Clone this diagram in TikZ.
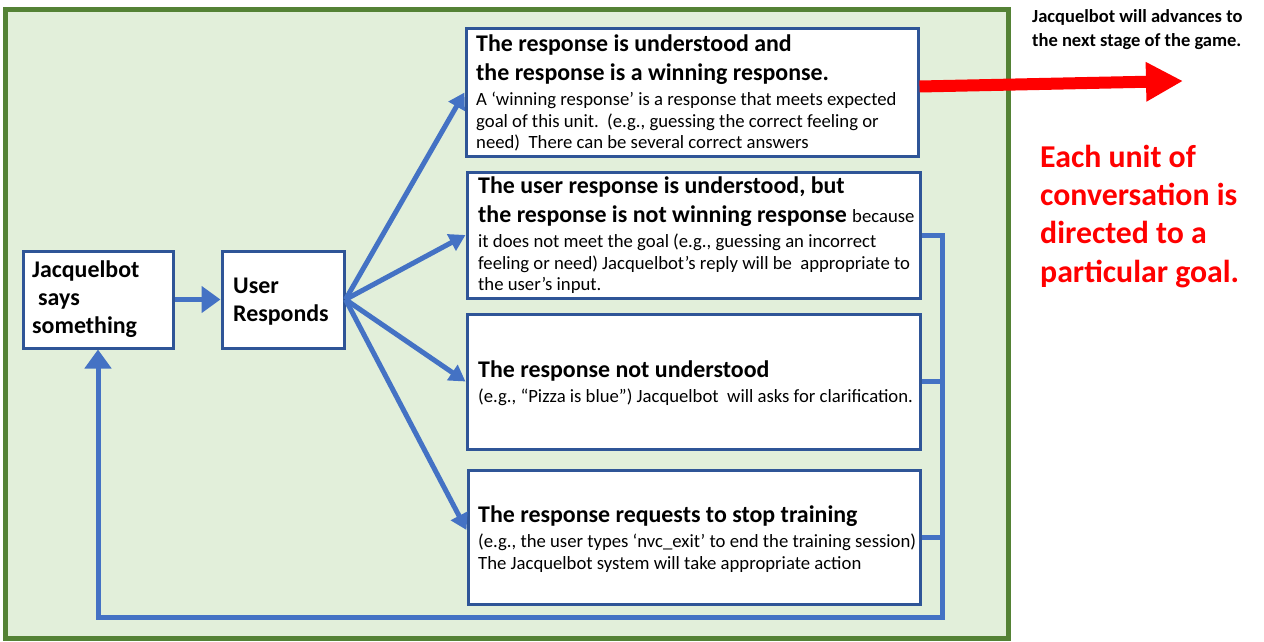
\documentclass[tikz,border=0pt]{standalone}
\usepackage{fontspec}
\setmainfont{Carlito}
\usetikzlibrary{arrows.meta}
\definecolor{greenfill}{HTML}{E2EFDA}
\definecolor{greenline}{HTML}{548235}
\definecolor{boxline}{HTML}{2F5597}
\definecolor{flowblue}{HTML}{4472C4}
\definecolor{redc}{HTML}{FF0000}
\newcommand\bodyfont{\fontsize{18.7}{22}\selectfont\mdseries}
\begin{document}
\begin{tikzpicture}[x=1pt,y=-1pt,
  box/.style={draw=boxline,line width=3pt,fill=white,inner sep=0pt,anchor=center},
  head/.style={anchor=base west,inner sep=0pt,font=\fontsize{23.9}{29}\selectfont\bfseries},
  body/.style={anchor=base west,inner sep=0pt,font=\bodyfont},
  note/.style={anchor=base west,inner sep=0pt,font=\fontsize{18.5}{24}\selectfont\bfseries},
  goal/.style={anchor=base west,inner sep=0pt,text=redc,font=\fontsize{31.8}{38}\selectfont\bfseries},
  flow/.style={draw=flowblue,line width=5pt,line join=miter},
  tip/.style={-{Triangle[length=16pt,width=18pt]}},
  bigtip/.style={-{Triangle[length=19pt,width=26pt]}}]
\useasboundingbox (0,0) rectangle (1264,642);
\node[draw=greenline,fill=greenfill,line width=5pt,minimum width=1003pt,minimum height=628pt,inner sep=0pt] (frame) at (506.5,324) {};

% boxes
\node[box,minimum width=150pt,minimum height=97pt] (jb) at (98,299.5) {};
\node[box,minimum width=122pt,minimum height=97pt] (ur) at (283,299.5) {};
\node[box,minimum width=452pt,minimum height=127pt] (b1) at (692,92.5) {};
\node[box,minimum width=453pt,minimum height=126pt] (b2) at (693.5,235) {};
\node[box,minimum width=453pt,minimum height=135pt] (b3) at (693.5,381.5) {};
\node[box,minimum width=452pt,minimum height=134pt] (b4) at (694,537) {};

% texts of left boxes
\node[head] (jb1) at (32,277) {Jacquelbot};
\node[head] (jb2) at (38,305) {says};
\node[head] (jb3) at (32,333) {something};
\node[head] (ur1) at (233,293) {User};
\node[head] (ur2) at (233,321) {Responds};

% box 1
\node[head] (t1a) at (476,52) {The response is understood and};
\node[head] (t1b) at (476,81) {the response is a winning response.};
\node[body] (t1c) at (476,105) {A ‘winning response’ is a response that meets expected};
\node[body] (t1d) at (476,127) {goal of this unit.\ \ (e.g., guessing the correct feeling or};
\node[body] (t1e) at (476,148) {need)\ \ There can be several correct answers};

% box 2
\node[head] (t2a) at (478,193) {The user response is understood, but};
\node[head] (t2b) at (478,222) {the response is not winning response {\bodyfont because}};
\node[body] (t2c) at (478,247) {it does not meet the goal (e.g., guessing an incorrect};
\node[body] (t2d) at (478,269) {feeling or need) Jacquelbot’s reply will be\ \ appropriate to};
\node[body] (t2e) at (478,290) {the user’s input.};

% box 3
\node[head] (t3a) at (478,377) {The response not understood};
\node[body] (t3b) at (478,402) {(e.g., “Pizza is blue”) Jacquelbot\ \ will asks for clarification.};

% box 4
\node[head] (t4a) at (478,522) {The response requests to stop training};
\node[body] (t4b) at (478,547) {(e.g., the user types ‘nvc\_exit’ to end the training session)};
\node[body] (t4c) at (478,569) {The Jacquelbot system will take appropriate action};

% right side texts
\node[note] (n1) at (1032,23) {Jacquelbot will advances to};
\node[note] (n2) at (1032,47) {the next stage of the game.};
\node[goal] (g1) at (1040,167) {Each unit of};
\node[goal] (g2) at (1040,205) {conversation is};
\node[goal] (g3) at (1040,243) {directed to a};
\node[goal] (g4) at (1040,282) {particular goal.};

% connectors
\draw[flow,bigtip] (jb.east) -- (ur.west);
\draw[flow,tip] (ur.east) -- (b1.west);
\draw[flow,tip] (ur.east) -- (b2.west);
\draw[flow,tip] (ur.east) -- (b3.west);
\draw[flow,tip] (ur.east) -- ([yshift=7pt]b4.west);
\coordinate (loopR) at (942,617);
\draw[flow,bigtip] (b2.east) -| (loopR) -- (jb.south |- loopR) -- (jb.south);
\draw[flow] (b3.east) -- (b3.east -| loopR);
\draw[flow] (b4.east) -- (b4.east -| loopR);

% red arrow
\coordinate (redtip) at (1183,81);
\draw[draw=redc,line width=12pt,-{Triangle[length=37pt,width=37pt]}] ([yshift=6pt]b1.east) -- (redtip);
\end{tikzpicture}
\end{document}
